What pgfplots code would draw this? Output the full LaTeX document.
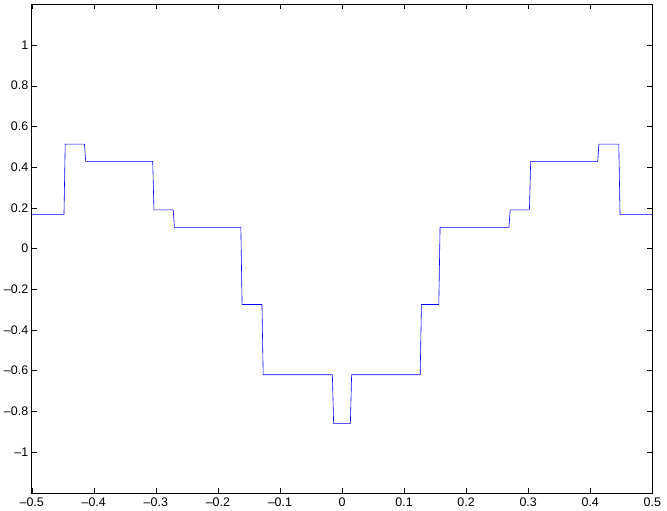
\documentclass[border=0pt]{standalone}
\usepackage{fontspec}
\setmainfont{Liberation Sans}
\usepackage{pgfplots}
\usetikzlibrary{calc}
\pgfplotsset{compat=1.18}

\begin{document}
\begin{tikzpicture}
\begin{axis}[
    scale only axis,
    width=620.6bp, height=488.5bp,
    xmin=-0.5, xmax=0.5,
    ymin=-1.2, ymax=1.2,
    xtick={-0.5,-0.4,-0.3,-0.2,-0.1,0,0.1,0.2,0.3,0.4,0.5},
    xticklabels={--0.5,--0.4,--0.3,--0.2,--0.1,0,0.1,0.2,0.3,0.4,0.5},
    ytick={-1,-0.8,-0.6,-0.4,-0.2,0,0.2,0.4,0.6,0.8,1},
    yticklabels={--1,--0.8,--0.6,--0.4,--0.2,0,0.2,0.4,0.6,0.8,1},
    tick align=inside,
    major tick length=5bp,
    tick style={black, line width=0.4pt},
    axis line style={black, line width=0.5pt},
    tick label style={font=\fontsize{12.5}{14}\selectfont},
    xticklabel style={yshift=-1.5bp},
]
\addplot [blue, line width=0.6pt] coordinates {
    (-0.5,0.168) (-0.448,0.168) (-0.446,0.513) (-0.415,0.513)
    (-0.413,0.428) (-0.305,0.428) (-0.303,0.19) (-0.272,0.19)
    (-0.270,0.104) (-0.163,0.104) (-0.161,-0.275) (-0.129,-0.275)
    (-0.127,-0.62) (-0.0155,-0.62) (-0.0135,-0.86) (0.0135,-0.86)
    (0.0155,-0.62) (0.126,-0.62) (0.128,-0.275) (0.156,-0.275)
    (0.158,0.104) (0.269,0.104) (0.271,0.19) (0.302,0.19)
    (0.304,0.428) (0.412,0.428) (0.414,0.513) (0.446,0.513)
    (0.448,0.168) (0.5,0.168)
};
\end{axis}
\pgfresetboundingbox
\path ($(current axis.south west)+(-31.7bp,-18bp)$) rectangle ($(current axis.north east)+(14.7bp,4.3bp)$);
\end{tikzpicture}
\end{document}
